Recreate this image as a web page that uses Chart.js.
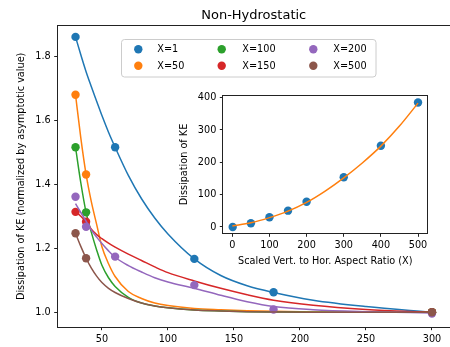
<!DOCTYPE html>
<html>
<head>
<meta charset="utf-8">
<script src="https://cdn.jsdelivr.net/npm/chart.js@4.4.0/dist/chart.umd.min.js"></script>
<style>
  html, body { margin: 0; padding: 0; background: #fff; overflow: hidden; }
  #wrap { position: relative; width: 450px; height: 347px; overflow: hidden; }
  #main { position: absolute; left: 0; top: 0; }
  #inset { position: absolute; left: 170px; top: 85px; }
</style>
</head>
<body>
<div id="wrap">
  <canvas id="main" width="454" height="347"></canvas>
  <canvas id="inset" width="270" height="190"></canvas>
</div>
<script>
// series names (legend)
const seriesLabels = ['X=1', 'X=50', 'X=100', 'X=150', 'X=200', 'X=500'];

// measured points, main plot
const ptsX1 = [30, 60, 120, 180, 300];
const ptsY1 = [1.861, 1.516, 1.167, 1.0625, 1.0];
const ptsX50 = [30, 38, 300];
const ptsY50 = [1.68, 1.431, 1.0];
const ptsX100 = [30, 38, 300];
const ptsY100 = [1.516, 1.3125, 1.0];
const ptsX150 = [30, 38, 300];
const ptsY150 = [1.314, 1.283, 1.0];
const ptsX200 = [30, 38, 60, 120, 180, 300];
const ptsY200 = [1.361, 1.2675, 1.174, 1.085, 1.009, 0.996];
const ptsX500 = [30, 38, 300];
const ptsY500 = [1.247, 1.169, 1.0];

// fitted curves on a shared x grid
const curveX = [30, 34, 38, 42, 46, 50, 55, 60, 70, 80, 90, 100, 120, 140, 160, 180, 210, 250, 300];
const curveY1   = [1.861, 1.805, 1.752, 1.705, 1.660, 1.615, 1.563, 1.516, 1.428, 1.355, 1.295, 1.245, 1.167, 1.115, 1.083, 1.062, 1.038, 1.018, 1.000];
const curveY50  = [1.680, 1.545, 1.431, 1.345, 1.275, 1.205, 1.152, 1.112, 1.065, 1.043, 1.029, 1.021, 1.012, 1.008, 1.005, 1.003, 1.001, 1.000, 1.000];
const curveY100 = [1.516, 1.405, 1.3125, 1.250, 1.195, 1.147, 1.108, 1.081, 1.047, 1.029, 1.020, 1.014, 1.007, 1.004, 1.002, 1.001, 1.000, 1.000, 1.000];
const curveY150 = [1.315, 1.300, 1.282, 1.260, 1.243, 1.230, 1.216, 1.204, 1.182, 1.162, 1.142, 1.124, 1.098, 1.075, 1.055, 1.038, 1.022, 1.009, 1.000];
const curveY200 = [1.340, 1.312, 1.285, 1.257, 1.235, 1.215, 1.192, 1.172, 1.146, 1.126, 1.108, 1.095, 1.075, 1.053, 1.033, 1.018, 1.008, 1.002, 0.998];
const curveY500 = [1.247, 1.206, 1.169, 1.138, 1.113, 1.093, 1.075, 1.062, 1.043, 1.029, 1.020, 1.014, 1.007, 1.004, 1.002, 1.001, 1.000, 1.000, 1.000];

const xTicks = [50, 100, 150, 200, 250, 300];
const yTicks = [1.0, 1.2, 1.4, 1.6, 1.8];

// inset: dissipation vs aspect ratio
const insetX = [1, 50, 100, 150, 200, 300, 400, 500];
const insetY = [0, 11.5, 30, 50.5, 78, 154, 251, 385];
const insetCurveX = [0, 50, 100, 150, 200, 250, 300, 350, 400, 450, 500];
const insetCurveY = [3, 13, 29, 49, 76, 111, 152, 198, 250, 312, 383];
const insetXTicks = [0, 100, 200, 300, 400, 500];
const insetYTicks = [0, 100, 200, 300, 400];

const colors = ['#1f77b4', '#ff7f0e', '#2ca02c', '#d62728', '#9467bd', '#8c564b'];
const FONT = 'DejaVu Sans';
const TICK_SIZE = 9.7;

Chart.defaults.font.family = FONT;
Chart.defaults.color = '#000';

const allPtsX = [ptsX1, ptsX50, ptsX100, ptsX150, ptsX200, ptsX500];
const allPtsY = [ptsY1, ptsY50, ptsY100, ptsY150, ptsY200, ptsY500];
const allCurveY = [curveY1, curveY50, curveY100, curveY150, curveY200, curveY500];

const toXY = (xs, ys) => xs.map((x, i) => ({ x: x, y: ys[i] }));

const datasets = [];
seriesLabels.forEach((lab, i) => {
    datasets.push({
        label: lab,
        data: toXY(curveX, allCurveY[i]),
        borderColor: colors[i],
        borderWidth: 1.5,
        pointRadius: 0,
        showLine: true,
        cubicInterpolationMode: 'monotone',
        order: 100 - 2 * i
    });
    datasets.push({
        label: lab,
        data: toXY(allPtsX[i], allPtsY[i]),
        showLine: false,
        pointRadius: 4.2,
        pointBackgroundColor: colors[i],
        pointBorderWidth: 0,
        order: 99 - 2 * i,
        isMarker: true
    });
});

function spines(chart) {
    const { ctx, chartArea: a } = chart;
    ctx.save();
    ctx.strokeStyle = '#222';
    ctx.lineWidth = 1;
    ctx.strokeRect(Math.round(a.left) - 0.5, Math.round(a.top) - 0.5,
        Math.round(a.right) - Math.round(a.left) + 1, Math.round(a.bottom) - Math.round(a.top) + 1);
    ctx.restore();
}

// title, axis label, legend and frame for the main axes
const mainDecor = {
    id: 'mainDecor',
    afterDraw(chart) {
        const { ctx, chartArea: a } = chart;
        spines(chart);
        ctx.save();
        ctx.fillStyle = '#000';
        ctx.font = `13px "${FONT}"`;
        ctx.textAlign = 'center';
        ctx.textBaseline = 'alphabetic';
        ctx.fillText('Non-Hydrostatic', (a.left + a.right) / 2, 18.5);

        ctx.font = `${TICK_SIZE}px "${FONT}"`;
        ctx.translate(21.5, (a.top + a.bottom) / 2);
        ctx.rotate(-Math.PI / 2);
        ctx.textBaseline = 'middle';
        ctx.fillText('Dissipation of KE (normalized by asymptotic value)', 0, 0);
        ctx.restore();

        // legend, 3 columns x 2 rows, filled column by column
        ctx.save();
        const bx = 121.5, by = 39.5, bw = 254.5, bh = 37.5, r = 3;
        ctx.beginPath();
        ctx.moveTo(bx + r, by);
        ctx.arcTo(bx + bw, by, bx + bw, by + bh, r);
        ctx.arcTo(bx + bw, by + bh, bx, by + bh, r);
        ctx.arcTo(bx, by + bh, bx, by, r);
        ctx.arcTo(bx, by, bx + bw, by, r);
        ctx.closePath();
        ctx.fillStyle = 'rgba(255,255,255,0.8)';
        ctx.fill();
        ctx.strokeStyle = '#cccccc';
        ctx.lineWidth = 1;
        ctx.stroke();

        const markX = [138.3, 221.7, 313.3];
        const textX = [157.3, 242.3, 333.3];
        const rowY = [49.3, 65.7];
        ctx.font = `${TICK_SIZE}px "${FONT}"`;
        ctx.textAlign = 'left';
        ctx.textBaseline = 'middle';
        chart.data.datasets.filter(d => d.isMarker).forEach((d, i) => {
            const c = Math.floor(i / 2), rr = i % 2;
            ctx.fillStyle = d.pointBackgroundColor;
            ctx.beginPath();
            ctx.arc(markX[c], rowY[rr], 4.2, 0, Math.PI * 2);
            ctx.fill();
            ctx.fillStyle = '#000';
            ctx.fillText(d.label, textX[c], rowY[rr] + 0.5);
        });
        ctx.restore();
    }
};

new Chart(document.getElementById('main').getContext('2d'), {
    type: 'line',
    data: { datasets: datasets },
    options: {
        responsive: false,
        animation: false,
        events: [],
        layout: { padding: { top: 26, right: 1.7, left: 0, bottom: 0 } },
        plugins: { legend: { display: false }, tooltip: { enabled: false } },
        scales: {
            x: {
                type: 'linear',
                min: 16.5,
                max: 313.5,
                afterBuildTicks: s => { s.ticks = xTicks.map(v => ({ value: v })); },
                afterFit: s => { s.height = 20.3; },
                grid: { drawOnChartArea: false, drawTicks: true, tickLength: 3.5, color: '#222' },
                border: { display: false },
                ticks: { font: { size: TICK_SIZE }, padding: 3, maxRotation: 0, autoSkip: false, callback: v => String(v) }
            },
            y: {
                type: 'linear',
                min: 0.955,
                max: 1.895,
                afterBuildTicks: s => { s.ticks = yTicks.map(v => ({ value: v })); },
                afterFit: s => { s.width = 57.7; },
                grid: { drawOnChartArea: false, drawTicks: true, tickLength: 3.5, color: '#222' },
                border: { display: false },
                ticks: { font: { size: TICK_SIZE }, padding: 3.5, autoSkip: false, callback: v => v.toFixed(1) }
            }
        }
    },
    plugins: [mainDecor]
});

// inset axes
const insetDecor = {
    id: 'insetDecor',
    beforeDraw(chart) {
        const { ctx, chartArea: a } = chart;
        ctx.save();
        ctx.fillStyle = '#fff';
        ctx.fillRect(a.left, a.top, a.right - a.left, a.bottom - a.top);
        ctx.restore();
    },
    afterDraw(chart) {
        const { ctx, chartArea: a } = chart;
        spines(chart);
        ctx.save();
        ctx.fillStyle = '#000';
        ctx.font = `${TICK_SIZE}px "${FONT}"`;
        ctx.textAlign = 'center';
        ctx.textBaseline = 'middle';
        ctx.fillText('Scaled Vert. to Hor. Aspect Ratio (X)', (a.left + a.right) / 2, 176);
        ctx.translate(14.5, (a.top + a.bottom) / 2);
        ctx.rotate(-Math.PI / 2);
        ctx.fillText('Dissipation of KE', 0, 0);
        ctx.restore();
    }
};

new Chart(document.getElementById('inset').getContext('2d'), {
    type: 'line',
    data: {
        datasets: [
            {
                data: toXY(insetCurveX, insetCurveY),
                borderColor: colors[1],
                borderWidth: 1.5,
                pointRadius: 0,
                showLine: true,
                cubicInterpolationMode: 'monotone',
                order: 1
            },
            {
                data: toXY(insetX, insetY),
                showLine: false,
                pointRadius: 4.2,
                pointBackgroundColor: colors[0],
                pointBorderWidth: 0,
                order: 2
            }
        ]
    },
    options: {
        responsive: false,
        animation: false,
        events: [],
        layout: { padding: { top: 10.7, right: 12.7, left: 0, bottom: 0 } },
        plugins: { legend: { display: false }, tooltip: { enabled: false } },
        scales: {
            x: {
                type: 'linear',
                min: -24.3,
                max: 525,
                afterBuildTicks: s => { s.ticks = insetXTicks.map(v => ({ value: v })); },
                afterFit: s => { s.height = 41.7; },
                grid: { drawOnChartArea: false, drawTicks: true, tickLength: 3.5, color: '#222' },
                border: { display: false },
                ticks: { font: { size: TICK_SIZE }, padding: 3, maxRotation: 0, autoSkip: false, callback: v => String(v) }
            },
            y: {
                type: 'linear',
                min: -19.5,
                max: 406,
                afterBuildTicks: s => { s.ticks = insetYTicks.map(v => ({ value: v })); },
                afterFit: s => { s.width = 53.3; },
                grid: { drawOnChartArea: false, drawTicks: true, tickLength: 3.5, color: '#222' },
                border: { display: false },
                ticks: { font: { size: TICK_SIZE }, padding: 3.5, autoSkip: false, callback: v => String(v) }
            }
        }
    },
    plugins: [insetDecor]
});
</script>
</body>
</html>
